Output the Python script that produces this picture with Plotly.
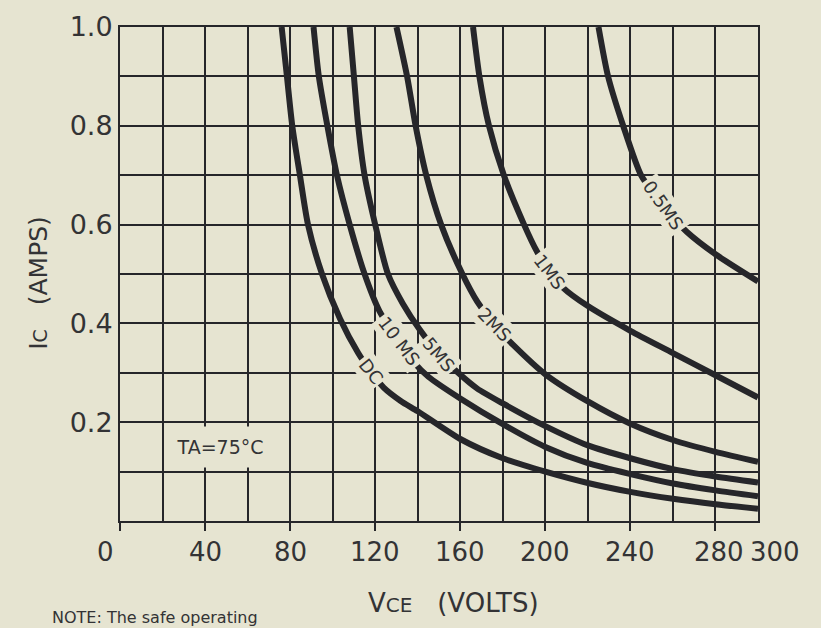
import plotly.graph_objects as go

# ---------------- data ----------------
x_tick_vals = [0, 40, 80, 120, 160, 200, 240, 280, 300]
x_tick_text = ["0", "40", "80", "120", "160", "200", "240", "280", "300"]
y_tick_vals = [0.2, 0.4, 0.6, 0.8, 1.0]
y_tick_text = ["0.2", "0.4", "0.6", "0.8", "1.0"]

dc_v = [76, 78.5, 81, 84.6, 88.4, 95, 103.4, 112, 118, 124, 132, 140, 160, 180, 200, 220, 240, 260, 280, 300]
dc_i = [1.0, 0.9, 0.8, 0.7, 0.6, 0.5, 0.41, 0.34, 0.302, 0.27, 0.243, 0.222, 0.166, 0.127, 0.1, 0.077, 0.059, 0.045, 0.034, 0.025]

ms10_v = [91, 93.5, 97.5, 102, 108, 115, 122, 131, 138, 145, 160, 180, 200, 220, 240, 260, 280, 300]
ms10_i = [1.0, 0.9, 0.8, 0.7, 0.6, 0.5, 0.425, 0.365, 0.322, 0.292, 0.248, 0.196, 0.15, 0.117, 0.095, 0.076, 0.062, 0.05]

ms5_v = [108, 110, 112, 115, 120, 126, 133, 141, 150, 159, 168, 180, 200, 220, 240, 260, 280, 300]
ms5_i = [1.0, 0.9, 0.8, 0.7, 0.6, 0.5, 0.44, 0.387, 0.338, 0.3, 0.268, 0.238, 0.192, 0.153, 0.127, 0.105, 0.09, 0.078]

ms2_v = [130, 135, 139, 144, 151, 161, 168, 176, 185, 200, 220, 240, 260, 280, 300]
ms2_i = [1.0, 0.9, 0.8, 0.7, 0.6, 0.5, 0.444, 0.397, 0.356, 0.297, 0.242, 0.197, 0.164, 0.14, 0.12]

ms1_v = [166, 169, 173.5, 180.5, 190, 196, 202, 208.4, 220, 240, 260, 280, 300]
ms1_i = [1.0, 0.9, 0.8, 0.7, 0.6, 0.546, 0.506, 0.472, 0.435, 0.385, 0.34, 0.295, 0.25]

ms05_v = [225, 229.5, 236.6, 245, 252, 259, 266.6, 280, 300]
ms05_i = [1.0, 0.9, 0.8, 0.7, 0.657, 0.62, 0.585, 0.54, 0.485]

curve_names = ["DC", "10 MS", "5MS", "2MS", "1MS", "0.5MS"]
curve_v = [dc_v, ms10_v, ms5_v, ms2_v, ms1_v, ms05_v]
curve_i = [dc_i, ms10_i, ms5_i, ms2_i, ms1_i, ms05_i]

# label anchor points on curves (data coords) and the off-chart 0.2MS label
label_text = ["DC", "10 MS", "5MS", "2MS", "1MS", "0.5MS", "0.2MS"]
label_v = [118.2, 131.4, 150, 176, 202, 255.5, 307.5]
label_i = [0.303, 0.363, 0.338, 0.397, 0.506, 0.638, 0.993]

# ---------------- style ----------------
BG = "#e6e4d1"
INK = "#26262a"
TXT = "#333335"
FONT = "DejaVu Sans"
label_angle = [52, 53, 50, 46, 53, 55, 43]
x_label_shift = {"0": -15, "280": 4, "300": 17}

fig = go.Figure()
for name, v, i in zip(curve_names, curve_v, curve_i):
    fig.add_trace(go.Scatter(
        x=v, y=i, mode="lines", name=name, showlegend=False, hoverinfo="skip",
        line=dict(color=INK, width=6, shape="spline", smoothing=0.7),
    ))

for t, v, i, a in zip(label_text, label_v, label_i, label_angle):
    fig.add_annotation(x=v, y=i, xref="x", yref="y", text=t, showarrow=False,
                       textangle=a, bgcolor=BG, borderpad=2,
                       font=dict(family=FONT, size=18, color=TXT))

for v, t in zip(x_tick_vals, x_tick_text):
    fig.add_annotation(x=v, y=0, xref="x", yref="y", text=t, showarrow=False,
                       yanchor="top", yshift=-14, xshift=x_label_shift.get(t, 0),
                       font=dict(family=FONT, size=26, color=TXT))

fig.add_annotation(x=47, y=0.15, xref="x", yref="y", text="TA=75°C", showarrow=False,
                   bgcolor=BG, width=104, height=38,
                   font=dict(family=FONT, size=19, color=TXT))

fig.add_annotation(x=0.5235, y=-0.166, xref="paper", yref="paper",
                   text="V<span style='font-size:20px'>CE</span>   (VOLTS)",
                   showarrow=False, yanchor="middle",
                   font=dict(family=FONT, size=26, color=TXT))

fig.add_annotation(x=-0.153, y=0.482, xref="paper", yref="paper",
                   text="I<span style='font-size:19px'>C</span>   (AMPS)",
                   showarrow=False, textangle=-90,
                   font=dict(family=FONT, size=25, color=TXT))

fig.add_annotation(x=-0.11, y=-0.172, xref="paper", yref="paper",
                   text="NOTE: The safe operating", showarrow=False,
                   xanchor="left", yanchor="top",
                   font=dict(family=FONT, size=16, color=TXT))

fig.update_layout(
    width=821, height=628,
    margin=dict(l=120, r=63, t=27, b=107),
    paper_bgcolor=BG, plot_bgcolor=BG,
    showlegend=False,
)

fig.update_xaxes(
    range=[0, 300], tickmode="array", tickvals=[0, 40, 80, 120, 160, 200, 240, 280],
    showticklabels=False, ticks="outside", ticklen=8, tickwidth=2, tickcolor=INK,
    showgrid=True, gridcolor=INK, gridwidth=1.6, zeroline=False,
    showline=True, mirror=True, linecolor=INK, linewidth=2,
    minor=dict(dtick=20, tick0=0, showgrid=True, gridcolor=INK, gridwidth=1.6, ticks=""),
)
fig.update_yaxes(
    range=[0, 1.0], tickmode="array", tickvals=y_tick_vals, ticktext=y_tick_text,
    ticks="", tickfont=dict(family=FONT, size=27, color=TXT),
    showgrid=True, gridcolor=INK, gridwidth=1.6, zeroline=False,
    showline=True, mirror=True, linecolor=INK, linewidth=2,
    minor=dict(dtick=0.1, tick0=0, showgrid=True, gridcolor=INK, gridwidth=1.6, ticks=""),
)

fig.write_html(
    "out.html",
    config={"displayModeBar": False},
    post_script="document.body.style.margin='0';document.body.style.background='" + BG + "';",
)
